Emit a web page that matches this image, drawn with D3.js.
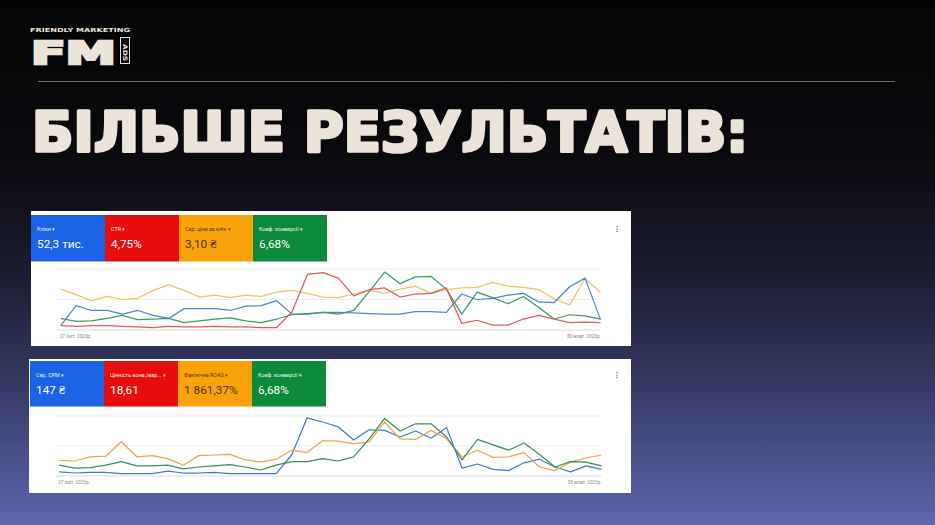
<!DOCTYPE html>
<html><head><meta charset="utf-8">
<script src="https://cdn.jsdelivr.net/npm/d3@7"></script>
<style>html,body{margin:0;padding:0;background:#000;overflow:hidden}</style>
</head><body>
<svg id="c" width="935" height="525"></svg>
<script>
// ---------- DATA ----------
const weeks = d3.range(36); // weekly points, 27 лют. 2023 → 30 жовт. 2023
const dateLabels = ["27 лют. 2023р.", "30 жовт. 2023р."];

const topLabels = ["Кліки", "CTR", "Сер. ціна за клік", "Коеф. конверсії"];
const topValues = ["52,3 тис.", "4,75%", "3,10 ₴", "6,68%"];
const bottomLabels = ["Сер. CPM", "Цінність конв./вар...", "Фактична ROAS", "Коеф. конверсії"];
const bottomValues = ["147 ₴", "18,61", "1 861,37%", "6,68%"];

// relative index values (100 = top gridline)
const topCpc = [67,58,48,55,50,52,65,74,65,54,57,53,57,55,62,65,60,54,53,59,65,60,67,72,60,66,69,70,78,72,70,66,51,41,84,62];
const topClicks = [7,40,32,32,26,32,24,19,35,35,35,32,39,40,48,26,26,29,29,28,27,26,26,30,30,29,59,50,52,57,60,46,45,71,85,17];
const topConv = [19,14,15,19,24,17,18,19,12,15,18,20,15,12,18,25,27,29,26,32,63,95,76,87,88,67,26,62,53,43,55,37,18,25,23,18];
const topCtr = [7,6,7,7,6,5,4,6,5,5,6,5,5,4,4,30,91,94,85,56,66,69,54,59,60,69,11,16,8,8,18,24,18,12,13,12];

const botRoas = [26,25,32,33,57,32,34,29,18,34,35,36,27,23,28,43,39,59,58,54,57,90,62,61,76,62,32,43,31,32,39,15,9,23,30,35];
const botCpm = [7,5,6,6,4,4,4,8,5,5,6,4,4,4,4,35,97,90,82,60,77,76,65,75,63,81,13,20,11,9,22,28,15,7,17,11];
const botConv = [18,13,14,18,24,17,17,18,12,15,17,19,15,10,18,24,24,29,25,32,62,96,75,87,87,65,27,61,52,43,55,36,15,24,23,17];

// ---------- STYLE ----------
const beige = "#ece3d9";
const tileColors = ["#1a63e4", "#e80d0d", "#faa20b", "#0c8a3b"];
const tileText = ["#ffffff", "#ffffff", "#4a3200", "#ffffff"];

const svg = d3.select("#c");
const defs = svg.append("defs");
const g = defs.append("linearGradient").attr("id","bg").attr("x1",0).attr("y1",0).attr("x2",0).attr("y2",1);
[[0,"#040405"],[0.3,"#0a0a0f"],[0.52,"#1b1c2f"],[0.75,"#373c68"],[1,"#5d66ae"]].forEach(s=>
  g.append("stop").attr("offset",s[0]).attr("stop-color",s[1]));
svg.append("rect").attr("width",935).attr("height",525).attr("fill","url(#bg)");

// logo
svg.append("text").attr("x",30).attr("y",32).attr("font-family","DejaVu Sans").attr("font-weight","bold")
  .attr("font-size",5.6).attr("fill",beige).attr("textLength",100).attr("lengthAdjust","spacingAndGlyphs")
  .text("FRIENDLY MARKETING");
svg.append("text").attr("x",31).attr("y",64).attr("font-family","DejaVu Sans").attr("font-weight","bold")
  .attr("font-size",32.5).attr("fill",beige).attr("stroke",beige).attr("stroke-width",2.6)
  .attr("stroke-linejoin","miter").attr("textLength",85).attr("lengthAdjust","spacingAndGlyphs").text("FM");
svg.append("rect").attr("x",120.5).attr("y",37.5).attr("width",9).attr("height",26)
  .attr("fill","none").attr("stroke",beige).attr("stroke-width",1);
svg.append("text").attr("transform","translate(122.5,44) rotate(90)").attr("font-family","DejaVu Sans")
  .attr("font-weight","bold").attr("font-size",6).attr("fill",beige).attr("textLength",17)
  .attr("lengthAdjust","spacingAndGlyphs").text("ADS");

// rule
svg.append("line").attr("x1",38).attr("x2",895).attr("y1",81.5).attr("y2",81.5)
  .attr("stroke","#6a6a6e").attr("stroke-width",1);

// title
svg.append("text").attr("x",32).attr("y",151).attr("font-family","DejaVu Sans").attr("font-weight","bold")
  .attr("font-size",56).attr("fill",beige).attr("stroke",beige).attr("stroke-width",3.4)
  .attr("stroke-linejoin","round").attr("textLength",716).attr("lengthAdjust","spacingAndGlyphs")
  .text("БІЛЬШЕ РЕЗУЛЬТАТІВ:");

function card(cfg){
  const c = svg.append("g");
  c.append("rect").attr("x",cfg.x).attr("y",cfg.y).attr("width",cfg.w).attr("height",cfg.h).attr("fill","#ffffff");
  // tiles
  cfg.labels.forEach((lab,i)=>{
    const tx = cfg.tileX + i*74;
    c.append("rect").attr("x",tx).attr("y",cfg.tileY).attr("width",74).attr("height",cfg.tileH).attr("fill",tileColors[i]);
    c.append("text").attr("x",tx+6).attr("y",cfg.tileY+15.5).attr("font-family","Roboto").attr("font-size",5.4)
      .attr("fill",tileText[i]).attr("opacity",0.92).text(lab + "  ▾");
    c.append("text").attr("x",tx+6).attr("y",cfg.tileY+33).attr("font-family","Roboto").attr("font-size",11.8)
      .attr("fill",tileText[i]).text(cfg.values[i]);
  });
  // menu dots
  [ -2.4, 0, 2.4 ].forEach(d=> c.append("circle").attr("cx",617).attr("cy",cfg.tileY+14+d).attr("r",0.75).attr("fill","#666"));
  // scales
  const x = d3.scaleLinear().domain([0,35]).range([cfg.px0, cfg.px1]);
  const y = d3.scaleLinear().domain([0,100]).range([cfg.base, cfg.top]);
  [0,50,100].forEach(v=>{
    c.append("line").attr("x1",cfg.gx0).attr("x2",cfg.px1).attr("y1",y(v)).attr("y2",y(v))
      .attr("stroke", v===0 ? "#dcdcdc" : "#ededed").attr("stroke-width",1);
  });
  const line = d3.line().x((d,i)=>x(weeks[i])).y(d=>y(d));
  cfg.series.forEach(s=>{
    c.append("path").attr("d",line(s.data)).attr("fill","none").attr("stroke",s.color)
      .attr("stroke-width",1.25).attr("stroke-linejoin","round");
  });
  c.append("text").attr("x",cfg.px0-1).attr("y",cfg.base+8).attr("font-family","Roboto").attr("font-size",4.6)
    .attr("fill","#8a8a8a").text(dateLabels[0]);
  c.append("text").attr("x",cfg.px1).attr("y",cfg.base+8).attr("text-anchor","end").attr("font-family","Roboto")
    .attr("font-size",4.6).attr("fill","#8a8a8a").text(dateLabels[1]);
}

card({x:31,y:211,w:600,h:135,tileX:31,tileY:215,tileH:46.5,labels:topLabels,values:topValues,
  px0:60.7,px1:600.5,gx0:56,base:330,top:269,
  series:[
    {data:topCpc,color:"#efc45e"},
    {data:topClicks,color:"#4a87d2"},
    {data:topConv,color:"#3b9c64"},
    {data:topCtr,color:"#e05a5e"}
  ]});

card({x:29,y:359,w:602,h:134,tileX:30,tileY:361,tileH:45.5,labels:bottomLabels,values:bottomValues,
  px0:59.3,px1:601.5,gx0:55,base:476,top:416,
  series:[
    {data:botCpm,color:"#3f7ecb"},
    {data:botRoas,color:"#eea64c"},
    {data:botConv,color:"#37905e"}
  ]});
</script>
</body></html>
